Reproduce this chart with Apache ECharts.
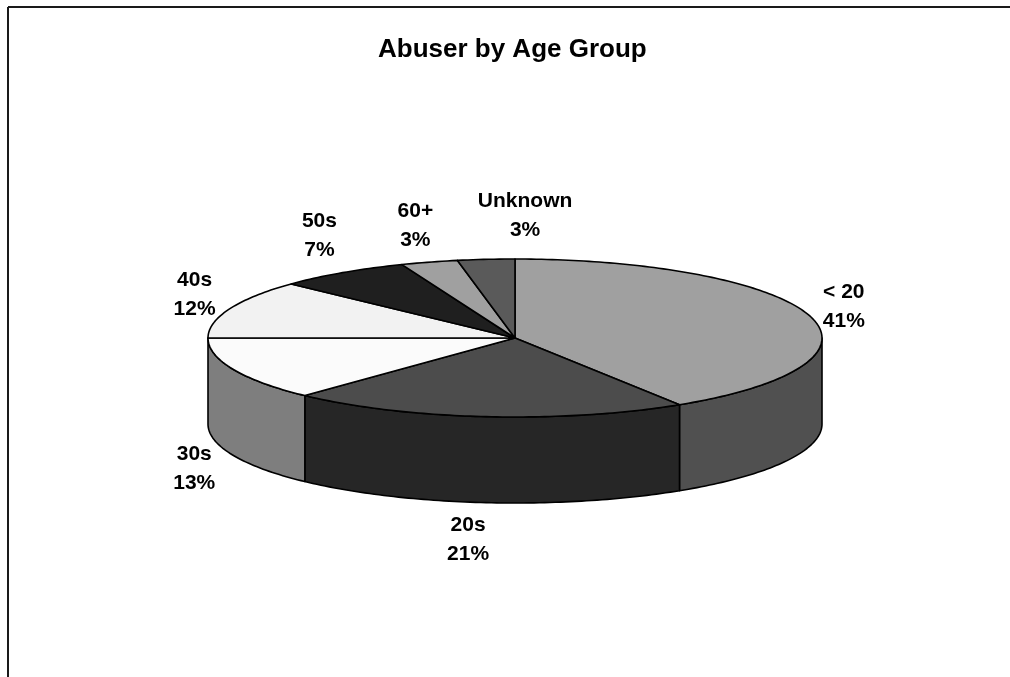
<!DOCTYPE html>
<html>
<head>
<meta charset="utf-8">
<script src="https://cdn.jsdelivr.net/npm/echarts@6/dist/echarts.min.js"></script>
<style>html,body{margin:0;padding:0;background:#fff;}#main{width:1010px;height:677px;}</style>
</head>
<body>
<div id="main"></div>
<script>
// ---- data ----
const categories = ['< 20', '20s', '30s', '40s', '50s', '60+', 'Unknown'];
const values = [41, 21, 13, 12, 7, 3, 3];
const titleText = 'Abuser by Age Group';

// ---- styles ----
const topColors = ['#a0a0a0', '#4c4c4c', '#fbfbfb', '#f2f2f2', '#1f1f1f', '#a0a0a0', '#5a5a5a'];
const labelNudge = [[34, -9], [-18, 37], [-39, 13], [-35, -14], [-23, -37], [-14, -36], [39, -44]];
const geo = { cx: 515, cy: 338, rx: 307, ry: 79, depth: 86 };
const FONT = '"Liberation Sans", Arial, sans-serif';

const total = values.reduce((a, b) => a + b, 0);
function startAngle(i) { let s = 0; for (let k = 0; k < i; k++) s += values[k]; return s / total * 360; }
function pt(deg, dy) {
  const r = deg * Math.PI / 180;
  return [geo.cx + geo.rx * Math.sin(r), geo.cy - geo.ry * Math.cos(r) + (dy || 0)];
}
function arc(a, b, dy) {
  const pts = []; const n = Math.max(2, Math.ceil(Math.abs(b - a)));
  for (let k = 0; k <= n; k++) pts.push(pt(a + (b - a) * k / n, dy));
  return pts;
}
function shade(hex, f) {
  const n = parseInt(hex.slice(1), 16);
  const r = Math.round(((n >> 16) & 255) * f), g = Math.round(((n >> 8) & 255) * f), b = Math.round((n & 255) * f);
  return 'rgb(' + r + ',' + g + ',' + b + ')';
}

const chart = echarts.init(document.getElementById('main'), null, { renderer: 'canvas' });
const seriesData = values.map((v, i) => ({ name: categories[i], value: v }));

chart.setOption({
  animation: false,
  backgroundColor: '#fff',
  title: {
    text: titleText, left: 373, top: 32,
    textStyle: { fontFamily: FONT, fontSize: 26, fontWeight: 'bold', color: '#000' }
  },
  graphic: [
    { type: 'line', shape: { x1: 8, y1: 7, x2: 1010, y2: 7 }, style: { stroke: '#1a1a1a', lineWidth: 2 } },
    { type: 'line', shape: { x1: 8, y1: 7, x2: 8, y2: 677 }, style: { stroke: '#1a1a1a', lineWidth: 2 } }
  ],
  series: [
    {
      type: 'custom', coordinateSystem: 'none', z: 1, silent: true,
      data: seriesData,
      renderItem: function (params, api) {
        const i = params.dataIndex;
        const a1 = startAngle(i), a2 = a1 + api.value(0) / total * 360;
        const lo = Math.max(a1, 90), hi = Math.min(a2, 270);
        if (hi <= lo) return { type: 'group', children: [] };
        const pts = arc(lo, hi, 0).concat(arc(hi, lo, geo.depth));
        return {
          type: 'polygon', shape: { points: pts },
          style: { fill: shade(topColors[i], 0.5), stroke: '#000', lineWidth: 1.6, lineJoin: 'round' }
        };
      }
    },
    {
      type: 'custom', coordinateSystem: 'none', z: 2, silent: true,
      data: seriesData,
      renderItem: function (params, api) {
        const i = params.dataIndex;
        const v = api.value(0);
        const a1 = startAngle(i), a2 = a1 + v / total * 360;
        const pts = [[geo.cx, geo.cy]].concat(arc(a1, a2, 0));
        const m = (a1 + a2) / 2;
        const cosm = Math.cos(m * Math.PI / 180);
        const anchor = pt(m, cosm < 0 ? geo.depth : 0);
        return {
          type: 'group',
          children: [
            {
              type: 'polygon', shape: { points: pts },
              style: { fill: topColors[i], stroke: '#000', lineWidth: 1.6, lineJoin: 'round' }
            },
            {
              type: 'text', z2: 10,
              style: {
                text: categories[i] + '\n' + Math.round(v / total * 100) + '%',
                x: anchor[0] + labelNudge[i][0], y: anchor[1] + labelNudge[i][1],
                align: 'center', verticalAlign: 'middle',
                fontFamily: FONT, fontSize: 21, fontWeight: 'bold', lineHeight: 29, fill: '#000'
              }
            }
          ]
        };
      }
    }
  ]
});
</script>
</body>
</html>
